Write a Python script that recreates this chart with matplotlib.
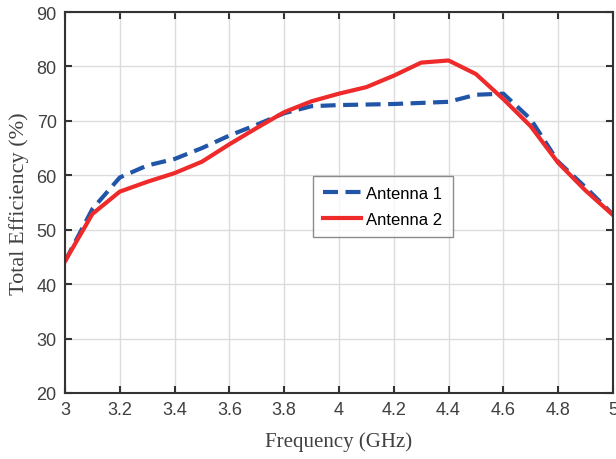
import numpy as np
import matplotlib.pyplot as plt

freq = [3.0, 3.1, 3.2, 3.3, 3.4, 3.5, 3.6, 3.7, 3.8, 3.9, 4.0,
        4.1, 4.2, 4.3, 4.4, 4.5, 4.6, 4.7, 4.8, 4.9, 5.0]
antenna1 = [44.2, 53.8, 59.6, 61.8, 63.0, 65.0, 67.3, 69.3, 71.4, 72.7, 72.9,
            73.0, 73.1, 73.3, 73.5, 74.8, 75.0, 70.3, 62.5, 57.8, 52.8]
antenna2 = [44.2, 52.9, 57.0, 58.8, 60.4, 62.5, 65.7, 68.7, 71.6, 73.6, 75.0,
            76.2, 78.3, 80.7, 81.1, 78.6, 74.0, 69.0, 62.3, 57.2, 52.7]

xticks = [3, 3.2, 3.4, 3.6, 3.8, 4, 4.2, 4.4, 4.6, 4.8, 5]
xticklabels = ['3', '3.2', '3.4', '3.6', '3.8', '4', '4.2', '4.4', '4.6', '4.8', '5']
yticks = [20, 30, 40, 50, 60, 70, 80, 90]

axcol = '#333333'
tickcol = '#404040'

fig = plt.figure(figsize=(6.16, 4.6), dpi=100)
ax = fig.add_axes([0.1055, 0.1435, 0.8895, 0.8282])

ax.plot(freq, antenna1, color='#2055a8', lw=3, linestyle=(0, (3.6, 1.8)), label='Antenna 1')
ax.plot(freq, antenna2, color='#ee2a2a', lw=3, label='Antenna 2')

ax.set_xlim(3, 5)
ax.set_ylim(20, 90)
ax.set_xticks(xticks)
ax.set_xticklabels(xticklabels)
ax.set_yticks(yticks)
ax.grid(True, color='#dcdcdc', lw=1)
ax.set_axisbelow(True)

ax.tick_params(direction='in', length=5, width=1.5, colors=axcol,
               labelcolor=tickcol, labelsize=13, top=True, right=True, pad=6)
for lab in ax.get_xticklabels() + ax.get_yticklabels():
    lab.set_family('Liberation Sans')
for s in ax.spines.values():
    s.set_color(axcol)
    s.set_linewidth(1.5)

ax.set_xlabel('Frequency (GHz)', family='Liberation Serif', fontsize=15, color=tickcol, labelpad=9)
ax.set_ylabel('Total Efficiency (%)', family='Liberation Serif', fontsize=16, color=tickcol, labelpad=5)

leg = ax.legend(loc='center', bbox_to_anchor=(0.58, 0.49), fancybox=False,
                prop={'family': 'Liberation Sans', 'size': 12},
                handlelength=2.3, handletextpad=0.3, borderpad=0.6, labelspacing=0.65)
leg.get_frame().set_edgecolor('#6f6f6f')
leg.get_frame().set_linewidth(1)

fig.savefig('out.png', dpi=100)
